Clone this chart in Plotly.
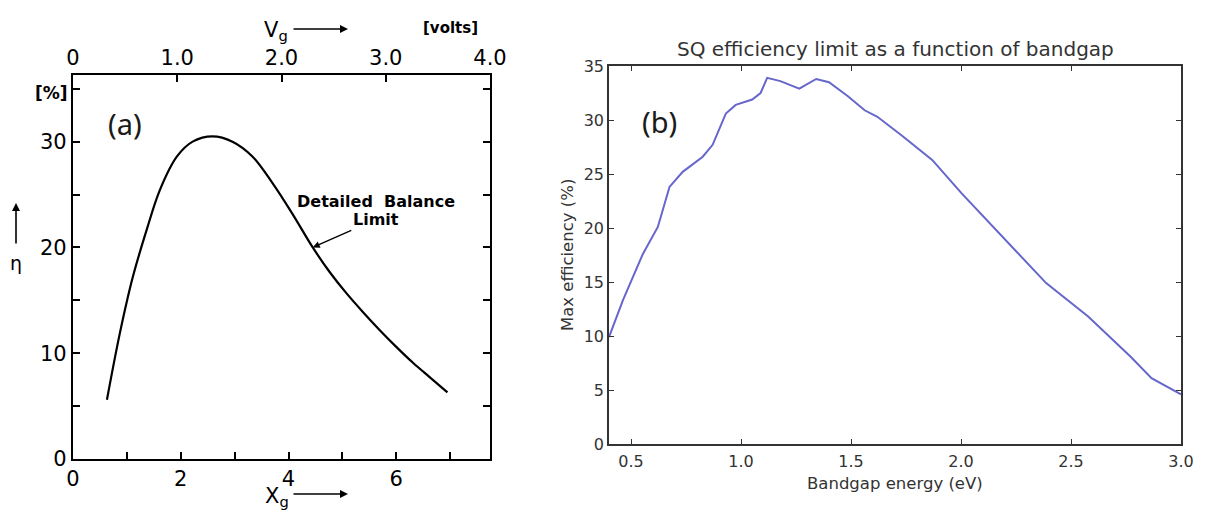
import plotly.graph_objects as go

# ---- Panel (a): Shockley-Queisser detailed balance limit ----
xg_vals = [0.63, 0.87, 1.11, 1.37, 1.61, 1.93, 2.22, 2.59, 2.96, 3.33, 3.70,
           4.07, 4.45, 4.76, 5.07, 5.38, 5.69, 6.00, 6.31, 6.63, 6.95]
eta_vals = [5.6, 11.9, 17.2, 21.7, 25.4, 28.6, 30.0, 30.5, 30.0, 28.6, 26.1,
            23.2, 20.0, 17.7, 15.7, 13.9, 12.2, 10.6, 9.1, 7.7, 6.3]
a_bottom_ticks = [0, 1, 2, 3, 4, 5, 6, 7]
a_bottom_labels = ["0", "", "2", "", "4", "", "6", ""]
a_top_ticks = [0, 1, 2, 3, 4]
a_top_labels = ["0", "1.0", "2.0", "3.0", "4.0"]
a_y_ticks = [0, 5, 10, 15, 20, 25, 30, 35]
a_y_labels = ["0", "", "10", "", "20", "", "30", ""]

# ---- Panel (b): SQ efficiency vs bandgap ----
eg_vals = [0.40, 0.463, 0.554, 0.622, 0.675, 0.735, 0.826, 0.871, 0.931, 0.976,
           1.051, 1.089, 1.119, 1.179, 1.265, 1.342, 1.40, 1.486, 1.562, 1.62,
           1.735, 1.869, 2.003, 2.157, 2.387, 2.578, 2.77, 2.866, 3.00]
eff_vals = [9.9, 13.3, 17.6, 20.1, 23.8, 25.2, 26.6, 27.7, 30.6, 31.4,
            31.9, 32.5, 33.9, 33.6, 32.9, 33.8, 33.5, 32.2, 30.9, 30.3,
            28.5, 26.3, 23.2, 19.9, 14.9, 11.8, 8.1, 6.1, 4.6]
b_x_ticks = [0.5, 1.0, 1.5, 2.0, 2.5, 3.0]
b_x_labels = ["0.5", "1.0", "1.5", "2.0", "2.5", "3.0"]
b_y_ticks = [0, 5, 10, 15, 20, 25, 30, 35]

# page body has an 8px default margin: size the figure so it fills the window
OFF = 8
W, H = 1205 - OFF, 515 - OFF


def px(x):
    return (x - OFF) / W


def py(y):
    return 1 - (y - OFF) / H


fig = go.Figure()
fig.add_trace(go.Scatter(x=xg_vals, y=eta_vals, mode="lines",
                         line=dict(color="black", width=2.2, shape="spline"),
                         xaxis="x", yaxis="y", showlegend=False, hoverinfo="skip"))
# empty trace so the top (V_g) axis of panel (a) is drawn
fig.add_trace(go.Scatter(x=[], y=[], mode="lines", xaxis="x3", yaxis="y",
                         showlegend=False, hoverinfo="skip"))
fig.add_trace(go.Scatter(x=eg_vals, y=eff_vals, mode="lines",
                         line=dict(color="#6666cc", width=2),
                         xaxis="x2", yaxis="y2", showlegend=False, hoverinfo="skip"))

a_font = dict(family="DejaVu Sans", size=21, color="black")
b_font = dict(family="DejaVu Sans", size=16, color="#333333")

common = dict(showgrid=False, zeroline=False, automargin=False)

fig.update_layout(
    template="none",
    width=W, height=H, autosize=False,
    margin=dict(l=0, r=0, t=0, b=0, pad=0, autoexpand=False),
    paper_bgcolor="white", plot_bgcolor="white",
    showlegend=False,
    xaxis=dict(domain=[px(73), px(490)], range=[0, 7.74], anchor="y",
               tickvals=a_bottom_ticks, ticktext=a_bottom_labels,
               ticks="inside", ticklen=7, tickwidth=2, tickcolor="black",
               showline=True, linewidth=2.2, linecolor="black",
               tickfont=a_font, **common),
    xaxis3=dict(domain=[px(73), px(490)], range=[0, 4.0], anchor="y",
                overlaying="x", side="top",
                tickvals=a_top_ticks, ticktext=a_top_labels,
                ticks="inside", ticklen=7, tickwidth=2, tickcolor="black",
                showline=True, linewidth=2.2, linecolor="black",
                tickfont=a_font, **common),
    yaxis=dict(domain=[py(459), py(75)], range=[0, 36.3], anchor="x",
               tickvals=a_y_ticks, ticktext=a_y_labels,
               ticks="inside", ticklen=7, tickwidth=2, tickcolor="black",
               showline=True, linewidth=2.2, linecolor="black", mirror="ticks",
               tickfont=a_font, **common),
    xaxis2=dict(domain=[px(609), px(1181)], range=[0.4, 3.0], anchor="y2",
                tickvals=b_x_ticks, ticktext=b_x_labels,
                ticks="inside", ticklen=5, tickwidth=1, tickcolor="#333333",
                showline=True, linewidth=1.6, linecolor="#333333", mirror="ticks",
                tickfont=b_font, ticklabelstandoff=2, **common),
    yaxis2=dict(domain=[py(444), py(66)], range=[0, 35], anchor="x2",
                tickvals=b_y_ticks,
                ticks="inside", ticklen=5, tickwidth=1, tickcolor="#333333",
                showline=True, linewidth=1.6, linecolor="#333333", mirror="ticks",
                tickfont=b_font, **common),
)


def txt(x, y, text, family, size, color="black", angle=0):
    return dict(x=px(x), y=py(y), xref="paper", yref="paper", text=text,
                xanchor="center", yanchor="middle", showarrow=False,
                textangle=angle, font=dict(family=family, size=size, color=color))


def arrow(x_head, y_head, ax, ay):
    return dict(x=px(x_head), y=py(y_head), xref="paper", yref="paper", text="",
                showarrow=True, ax=ax, ay=ay, arrowhead=2, arrowsize=1,
                arrowwidth=1.6, arrowcolor="black")


ann = []
# panel (a) texts
ann.append(txt(125, 123, "(a)", "Noto Sans", 29, "#1a1a1a"))
ann.append(txt(51, 93, "<b>[%]</b>", "DejaVu Sans", 17))
ann.append(txt(276, 31, "V<sub>g</sub>", "DejaVu Sans", 21))
ann.append(arrow(348, 29, -56, 0))
ann.append(txt(450, 28, "<b>[volts]</b>", "DejaVu Sans", 15))
ann.append(txt(277, 497, "X<sub>g</sub>", "DejaVu Sans", 21))
ann.append(arrow(348, 494, -56, 0))
ann.append(arrow(16, 203, 0, 42))
ann.append(txt(16, 263, "η", "DejaVu Sans", 19))
ann.append(txt(376, 202, "<b>Detailed\u00a0\u00a0Balance</b>", "DejaVu Sans", 16))
ann.append(dict(x=4.45, y=20.0, xref="x", yref="y", text="<b>Limit</b>",
                xanchor="center", yanchor="middle",
                showarrow=True, ax=63, ay=-28, arrowhead=2, arrowsize=1, arrowwidth=1.4,
                arrowcolor="black",
                font=dict(family="DejaVu Sans", size=16, color="black")))
# panel (b) texts
ann.append(txt(659, 121, "(b)", "Noto Sans", 29, "#1a1a1a"))
ann.append(txt(895, 49, "SQ efficiency limit as a function of bandgap",
               "DejaVu Sans", 20, "#333333"))
ann.append(txt(895, 483, "Bandgap energy (eV)", "DejaVu Sans", 16.5, "#333333"))
ann.append(txt(567, 255, "Max efficiency (%)", "DejaVu Sans", 16.5, "#333333", -90))

fig.update_layout(annotations=ann)
fig.write_html("out.html")
